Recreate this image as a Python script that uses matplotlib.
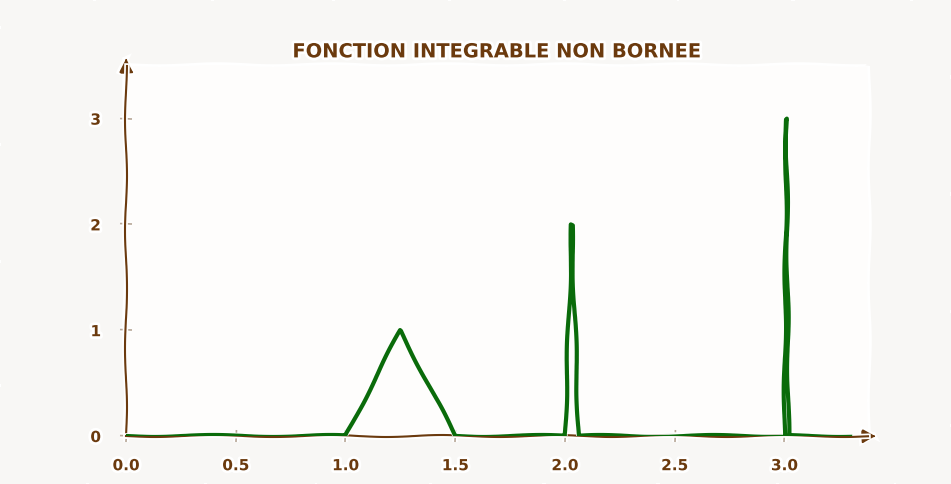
import matplotlib.pyplot as plt

# fonction : triangles de hauteur n et de largeur 1/(2 n^3)
x_vals = [0.0, 1.0, 1.25, 1.5, 2.0, 2.03125, 2.0625, 3.0, 3.00926, 3.01852, 3.3]
y_vals = [0, 0, 1, 0, 0, 2, 0, 0, 3, 0, 0]
x_ticks = [0.0, 0.5, 1.0, 1.5, 2.0, 2.5, 3.0]
y_ticks = [0, 1, 2, 3]
titre = "FONCTION INTEGRABLE NON BORNEE"

brun = "#6b3a0e"
vert = "#0a6b0a"

plt.xkcd(scale=1, length=120, randomness=1.5)
plt.rcParams['font.family'] = ['DejaVu Sans']

fig = plt.figure(figsize=(9.51, 4.84), dpi=100, facecolor="#f8f7f5")
ax = fig.add_axes([0.1325, 0.0992, 0.78, 0.765])
ax.set_facecolor("#fefdfc")

ax.plot(x_vals, y_vals, color=vert, linewidth=3, zorder=3)

ax.set_xlim(0, 3.38)
ax.set_ylim(0, 3.5)
ax.set_xticks(x_ticks)
ax.set_xticklabels([f"{t:.1f}" for t in x_ticks])
ax.set_yticks(y_ticks)

for s in ["top", "right"]:
    ax.spines[s].set_visible(False)
for s in ["left", "bottom"]:
    ax.spines[s].set_color(brun)
    ax.spines[s].set_linewidth(1.5)

ax.tick_params(axis="both", colors="#b8a898", labelcolor=brun, labelsize=11,
               direction="inout", length=8, width=1.2)
ax.tick_params(axis="x", pad=12)
ax.tick_params(axis="y", pad=14)
for lab in ax.get_xticklabels() + ax.get_yticklabels():
    lab.set_fontweight("bold")

# fleches au bout des axes
ax.plot(1, 0, ">", color=brun, markersize=9, transform=ax.get_yaxis_transform(), clip_on=False)
ax.plot(0, 1, "^", color=brun, markersize=9, transform=ax.get_xaxis_transform(), clip_on=False)

ax.set_title(titre, color=brun, fontsize=14, fontweight="bold", pad=6)

fig.savefig("out.png", dpi=100, facecolor=fig.get_facecolor())
